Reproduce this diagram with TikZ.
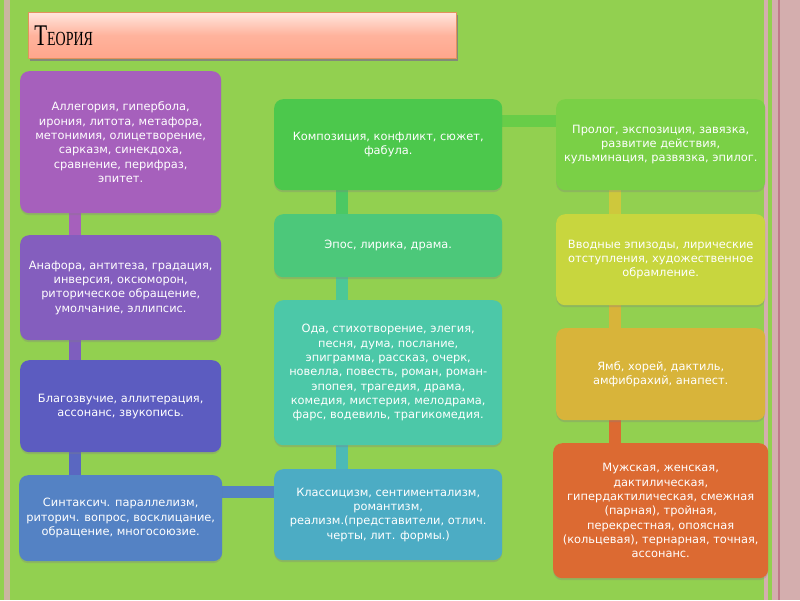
\documentclass[tikz,border=0pt]{standalone}
\usepackage{fontspec}
\setmainfont{DejaVu Sans}
\newfontfamily\titlefont[FakeStretch=0.7]{Liberation Serif}
\usetikzlibrary{positioning,backgrounds,shadows}
\definecolor{slidegreen}{RGB}{146, 208, 80}
\definecolor{edgetan}{RGB}{202, 182, 160}
\definecolor{edgepink}{RGB}{212, 174, 174}
\definecolor{edgered}{RGB}{192, 122, 138}
\definecolor{titletop}{RGB}{255, 230, 222}
\definecolor{titlebot}{RGB}{255, 166, 140}
\definecolor{titleedge}{RGB}{226, 146, 92}
\definecolor{tropepurple}{RGB}{166, 96, 188}
\definecolor{figviolet}{RGB}{132, 94, 190}
\definecolor{soundblue}{RGB}{92, 92, 192}
\definecolor{syntblue}{RGB}{84, 130, 196}
\definecolor{compgreen}{RGB}{76, 200, 76}
\definecolor{genremint}{RGB}{76, 200, 122}
\definecolor{genreteal}{RGB}{76, 200, 168}
\definecolor{flowcyan}{RGB}{76, 172, 196}
\definecolor{plotlime}{RGB}{122, 208, 70}
\definecolor{introyellow}{RGB}{200, 214, 62}
\definecolor{metregold}{RGB}{216, 180, 58}
\definecolor{rhymeorange}{RGB}{220, 106, 50}

\begin{document}
\begin{tikzpicture}[x=1pt, y=-1pt,
    box/.style={rounded corners=9pt, text=white, align=center, anchor=north west,
        inner sep=0pt, font=\fontsize{11.4}{14.3}\selectfont,
        drop shadow={opacity=0.3, shadow xshift=0pt, shadow yshift=-2pt}},
    link/.style={line width=12pt}]
    \useasboundingbox (0,0) rectangle (800,600);
    % Slide background
    \begin{scope}[on background layer]
        \fill[slidegreen] (0,0) rectangle (800,600);
        \fill[edgetan] (4,0) rectangle (10,600);
        \fill[edgepink] (764,0) rectangle (800,600);
        \fill[slidegreen] (768,0) rectangle (772,600);
        \fill[edgered] (778,0) rectangle (780,600);
    \end{scope}

    % Title bar
    \node[anchor=north west, minimum width=428pt, minimum height=46pt, inner xsep=6pt,
        text width=416pt, align=left, top color=titletop, bottom color=titlebot,
        middle color=titlebot!80!titletop, draw=titleedge, line width=0.6pt,
        drop shadow={opacity=0.85, shadow xshift=2pt, shadow yshift=-3pt}] (title) at (28,12)
        {\titlefont\fontsize{30}{30}\selectfont Т\fontsize{20}{20}\selectfont ЕОРИЯ};

    % Left column
    \node[box, fill=tropepurple, minimum width=201pt, minimum height=142pt] (alleg) at (20,71)
        {Аллегория, гипербола,\\ ирония, литота, метафора,\\ метонимия, олицетворение,\\ сарказм, синекдоха,\\ сравнение, перифраз,\\ эпитет.};
    \node[box, fill=figviolet, minimum width=201pt, minimum height=105pt] (anaph) at (20,235)
        {Анафора, антитеза, градация,\\ инверсия, оксюморон,\\ риторическое обращение,\\ умолчание, эллипсис.};
    \node[box, fill=soundblue, minimum width=201pt, minimum height=92pt] (blagoz) at (20,360)
        {Благозвучие, аллитерация,\\ ассонанс, звукопись.};
    \node[box, fill=syntblue, minimum width=203pt, minimum height=86pt] (sintax) at (19,475)
        {Синтаксич. параллелизм,\\ риторич. вопрос, восклицание,\\ обращение, многосоюзие.};

    % Middle column
    \node[box, fill=compgreen, minimum width=228pt, minimum height=91pt] (kompoz) at (274,99)
        {Композиция, конфликт, сюжет,\\ фабула.};
    \node[box, fill=genremint, minimum width=228pt, minimum height=63pt] (epos) at (274,214)
        {Эпос, лирика, драма.};
    \node[box, fill=genreteal, minimum width=228pt, minimum height=145pt] (oda) at (274,300)
        {Ода, стихотворение, элегия,\\ песня, дума, послание,\\ эпиграмма, рассказ, очерк,\\ новелла, повесть, роман, роман-\\ эпопея, трагедия, драма,\\ комедия, мистерия, мелодрама,\\ фарс, водевиль, трагикомедия.};
    \node[box, fill=flowcyan, minimum width=228pt, minimum height=91pt] (klass) at (274,469)
        {Классицизм, сентиментализм,\\ романтизм,\\ реализм.(представители, отлич.\\ черты, лит. формы.)};

    % Right column
    \node[box, fill=plotlime, minimum width=209pt, minimum height=91pt] (prolog) at (556,99)
        {Пролог, экспозиция, завязка,\\ развитие действия,\\ кульминация, развязка, эпилог.};
    \node[box, fill=introyellow, minimum width=209pt, minimum height=91pt] (vvod) at (556,214)
        {Вводные эпизоды, лирические\\ отступления, художественное\\ обрамление.};
    \node[box, fill=metregold, minimum width=209pt, minimum height=92pt] (yamb) at (556,328)
        {Ямб, хорей, дактиль,\\ амфибрахий, анапест.};
    \node[box, fill=rhymeorange, minimum width=215pt, minimum height=135pt] (rifma) at (553,443)
        {Мужская, женская,\\ дактилическая,\\ гипердактилическая, смежная\\ (парная), тройная,\\ перекрестная, опоясная\\ (кольцевая), тернарная, точная,\\ ассонанс.};

    % Connectors behind the boxes
    \begin{scope}[on background layer]
        \draw[link, tropepurple] ([xshift=55pt]alleg.south west) -- ([xshift=55pt]anaph.north west);
        \draw[link, figviolet!85!soundblue] ([xshift=55pt]anaph.south west) -- ([xshift=55pt]blagoz.north west);
        \draw[link, soundblue!70!syntblue] ([xshift=55pt]blagoz.south west) -- ([xshift=56pt]sintax.north west);
        \draw[link, syntblue] ([yshift=-17pt]sintax.north east) -- ([yshift=-23pt]klass.north west);
        \draw[link, compgreen!50!genremint] ([xshift=68pt]kompoz.south west) -- ([xshift=68pt]epos.north west);
        \draw[link, genremint!40!genreteal] ([xshift=68pt]epos.south west) -- ([xshift=68pt]oda.north west);
        \draw[link, genreteal!50!flowcyan] ([xshift=68pt]oda.south west) -- ([xshift=68pt]klass.north west);
        \draw[link, compgreen!40!plotlime] ([yshift=-21.5pt]kompoz.north east) -- ([yshift=-21.5pt]prolog.north west);
        \draw[link, introyellow!60!metregold] ([xshift=59pt]prolog.south west) -- ([xshift=59pt]vvod.north west);
        \draw[link, metregold] ([xshift=59pt]vvod.south west) -- ([xshift=59pt]yamb.north west);
        \draw[link, rhymeorange] ([xshift=59pt]yamb.south west) -- ([xshift=62pt]rifma.north west);
    \end{scope}
\end{tikzpicture}
\end{document}
